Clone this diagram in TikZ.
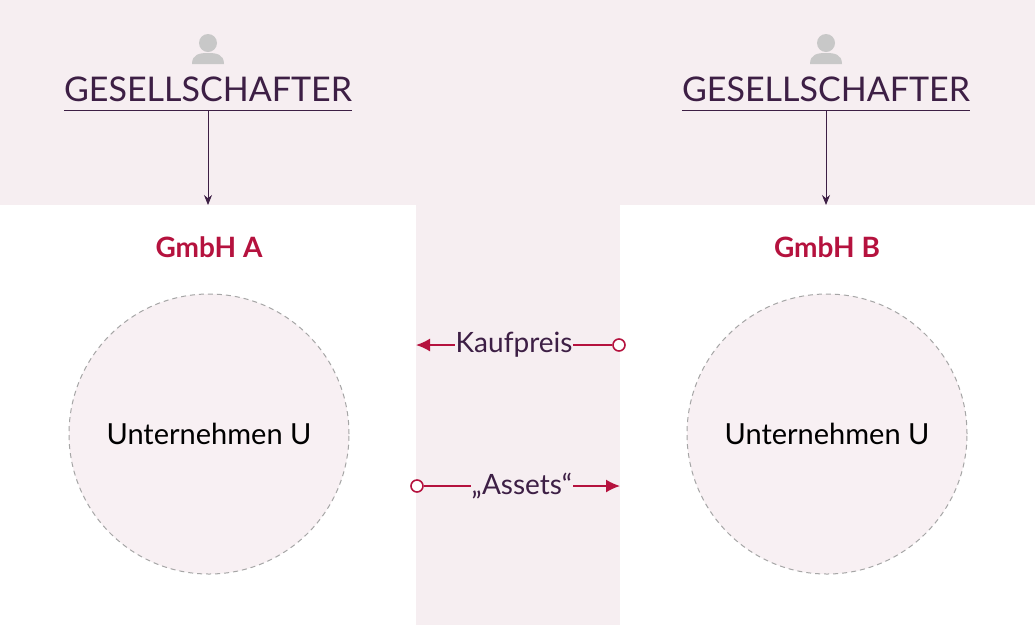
\documentclass[tikz,border=0pt]{standalone}
\usepackage{fontspec}
\setmainfont{Lato}
\usetikzlibrary{positioning,arrows.meta}
\definecolor{bgpink}{HTML}{F6EEF1}
\definecolor{circpink}{HTML}{F8F0F3}
\definecolor{darkpurple}{HTML}{3D1F45}
\definecolor{crimson}{HTML}{B5123E}
\definecolor{icongrey}{HTML}{C8C8C8}
\tikzset{
  box/.style={draw=none, fill=white, minimum width=416pt, minimum height=420pt, inner sep=0pt},
  unit/.style={circle, draw=gray!70, dashed, line width=1pt, dash pattern=on 5pt off 4pt, fill=circpink, minimum size=280pt, inner sep=0pt, font=\fontsize{29}{32}\selectfont},
  owner/.style={font=\fontsize{34}{38}\selectfont, text=darkpurple, inner sep=0pt, anchor=south},
  title/.style={font=\bfseries\fontsize{28}{32}\selectfont, text=crimson},
  flow/.style={font=\fontsize{28}{32}\selectfont, text=darkpurple, fill=bgpink, inner sep=1pt},
  trade/.style={draw=crimson, line width=1.6pt, -{Latex[length=14pt,width=13pt]}},
  ring/.style={circle, draw=crimson, line width=1.6pt, fill=white, minimum size=12pt, inner sep=0pt},
}
\begin{document}
\begin{tikzpicture}[x=1pt,y=-1pt]
\fill[bgpink] (0,0) rectangle (1035,625);
\useasboundingbox (0,0) rectangle (1035,625);
% boxes
\node[box, anchor=north west] (boxA) at (0,205) {};
\node[box, anchor=north west] (boxB) at (620,205) {};
\node[unit] (uA) at (209,434) {Unternehmen U};
\node[unit] (uB) at (827,434) {Unternehmen U};
\node[title] (tA) at (209,247) {GmbH A};
\node[title] (tB) at (827,247) {GmbH B};
% owners
\foreach \n/\x in {gA/208, gB/826}{
  \node[owner] (\n) at (\x,102) {GESELLSCHAFTER};
  \fill[icongrey] (\x,43) circle (9pt);
  \fill[icongrey] (\x-16,64) .. controls (\x-16,54) and (\x-8,53) .. (\x,53)
    .. controls (\x+8,53) and (\x+16,54) .. (\x+16,64) -- cycle;
}
\draw[darkpurple, line width=0.9pt] ([yshift=-8pt]gA.south west) -- coordinate (lA) ([yshift=-8pt]gA.south east);
\draw[darkpurple, line width=0.9pt] ([yshift=-8pt]gB.south west) -- coordinate (lB) ([yshift=-8pt]gB.south east);
\draw[darkpurple, line width=0.9pt, -{Stealth[length=10pt,width=8pt]}] (lA) -- (lA |- boxA.north);
\draw[darkpurple, line width=0.9pt, -{Stealth[length=10pt,width=8pt]}] (lB) -- (lB |- boxB.north);
% trade flows
\node[ring] (rK) at (619,345) {};
\coordinate (eK) at (416,345);
\draw[trade] (rK) -- node[flow] {Kaufpreis} (eK);
\node[ring] (rA) at (417,486) {};
\coordinate (eA) at (620,486);
\draw[trade] (rA) -- node[flow] {„Assets“} (eA);
\end{tikzpicture}
\end{document}
